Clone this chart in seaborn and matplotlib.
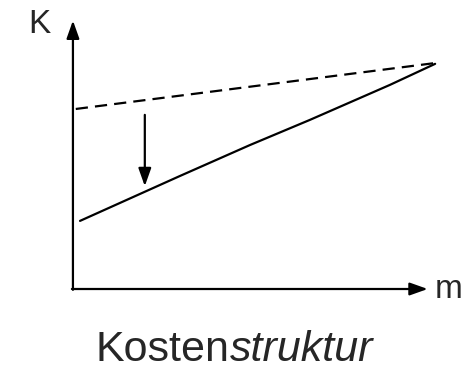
import matplotlib
matplotlib.use("Agg")
import matplotlib.pyplot as plt
import seaborn as sns
import pandas as pd

sns.set_theme(style="white")
plt.rcParams['font.family'] = ['Liberation Sans', 'DejaVu Sans']

# data (axis units: origin at 0, axis arrow tips at 10)
dashed_x = [0.08, 10.23]
dashed_y = [6.74, 8.46]
solid_x = [0.2, 3.02, 5.0, 6.69, 8.95, 10.23]
solid_y = [2.55, 4.23, 5.39, 6.33, 7.64, 8.43]
arrow_x = 2.03
arrow_from = 6.52
arrow_to = 3.85
x_label = "m"
y_label = "K"
title_a = "Kosten"
title_b = "struktur"

fig = plt.figure(figsize=(4.67, 3.71), dpi=100)
ax = fig.add_axes([0, 0, 1, 1])
ax.set_xlim(-2.06, 11.13)
ax.set_ylim(-3.07, 10.82)
ax.axis('off')

df_d = pd.DataFrame({"x": dashed_x, "y": dashed_y})
df_s = pd.DataFrame({"x": solid_x, "y": solid_y})
sns.lineplot(data=df_d, x="x", y="y", ax=ax, color="black", lw=1.6,
             dashes=(5.5, 3.2), sort=False)
sns.lineplot(data=df_s, x="x", y="y", ax=ax, color="black", lw=1.6,
             sort=False)

axprops = dict(arrowstyle="-|>,head_length=0.9,head_width=0.32", color="black",
               lw=1.6, shrinkA=0, shrinkB=0)
ax.annotate("", xy=(0, 10.05), xytext=(0, -0.03), arrowprops=axprops)
ax.annotate("", xy=(10.02, 0), xytext=(-0.03, 0), arrowprops=axprops)
ax.annotate("", xy=(arrow_x, arrow_to), xytext=(arrow_x, arrow_from),
            arrowprops=axprops)

ax.text((28 - 73) / 35.4, (289 - 33) / 26.7, y_label, fontsize=24,
        ha='left', va='baseline')
ax.text((435 - 73) / 35.4, (289 - 298) / 26.7, x_label, fontsize=24,
        ha='left', va='baseline')

fig.text(229 / 467, 1 - 361 / 371, title_a, fontsize=31, ha='right', va='baseline')
fig.text(230 / 467, 1 - 361 / 371, title_b, fontsize=31, ha='left', va='baseline',
         style='italic')

fig.savefig("out.png", dpi=100)
